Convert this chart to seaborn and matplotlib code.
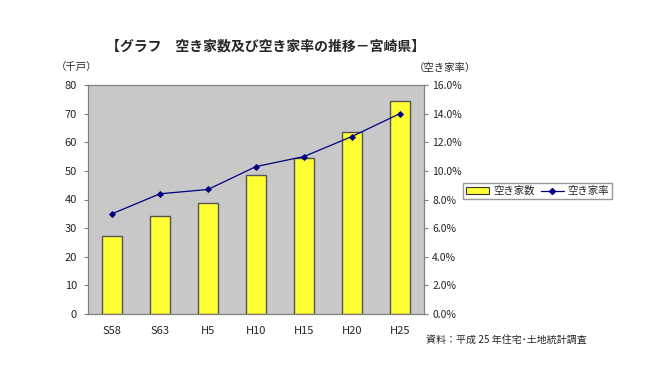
import pandas as pd
import seaborn as sns
import matplotlib.pyplot as plt
import matplotlib.ticker as mticker
from matplotlib.patches import Patch
from matplotlib.lines import Line2D

# Data
years = ['S58', 'S63', 'H5', 'H10', 'H15', 'H20', 'H25']
vacant_houses = [27.2, 34.3, 38.7, 48.5, 54.5, 63.6, 74.5]   # 千戸
vacancy_rate = [7.0, 8.4, 8.7, 10.3, 11.0, 12.4, 14.0]        # %

df = pd.DataFrame({'year': years, 'houses': vacant_houses, 'rate': vacancy_rate})

sns.set_style('white')
plt.rcParams['font.family'] = ['Noto Sans CJK JP', 'DejaVu Sans']

fig = plt.figure(figsize=(6.5, 3.75), dpi=100)
ax = fig.add_axes([0.1354, 0.1627, 0.5166, 0.6106])
ax.set_facecolor('#C8C8C8')

sns.barplot(data=df, x='year', y='houses', color='#FFFF33', saturation=1,
            width=0.42, edgecolor='#555555', linewidth=1.0, ax=ax)
ax.set_ylim(0, 80)
ax.yaxis.set_major_locator(mticker.MultipleLocator(10))
ax.set_xlabel('')
ax.set_ylabel('')

ax2 = ax.twinx()
sns.pointplot(data=df, x='year', y='rate', color='#000080', markers='D',
              markersize=3, linewidth=0.9, ax=ax2)
ax2.set_ylim(0, 16)
ax2.set_xlim(-0.5, 6.5)
ax2.yaxis.set_major_locator(mticker.MultipleLocator(2))
ax2.yaxis.set_major_formatter(mticker.FormatStrFormatter('%.1f%%'))
ax2.set_ylabel('')
ax2.set_xlabel('')

for a in (ax, ax2):
    for s in a.spines.values():
        s.set_color('#808080')
        s.set_linewidth(0.8)
ax.tick_params(axis='y', direction='out', length=3, color='#808080',
               labelsize=8, pad=5, left=True)
ax.tick_params(axis='x', length=0, labelsize=8, pad=9)
ax2.tick_params(axis='y', direction='out', length=3, color='#808080',
                labelsize=7.5, pad=3, right=True)

fig.text(0.408, 0.877, '【グラフ　空き家数及び空き家率の推移－宮崎県】',
         ha='center', va='center', fontsize=10, fontweight='bold')
fig.text(0.118, 0.818, '（千戸）', ha='center', va='center', fontsize=7.5)
fig.text(0.685, 0.818, '（空き家率）', ha='center', va='center', fontsize=7.5)
fig.text(0.655, 0.093, '資料：平成 25 年住宅･土地統計調査', ha='left',
         va='center', fontsize=7.2)

handles = [Patch(facecolor='#FFFF33', edgecolor='#333333', linewidth=0.8),
           Line2D([0], [0], color='#000080', marker='D', markersize=3, linewidth=0.9)]
fig.legend(handles, ['空き家数', '空き家率'], loc='center left',
           bbox_to_anchor=(0.704, 0.49), ncol=2, fontsize=7.5, frameon=True,
           fancybox=False, edgecolor='#808080', handlelength=2.2,
           handletextpad=0.4, columnspacing=0.6, borderpad=0.3)

plt.savefig('out.png', dpi=100)
